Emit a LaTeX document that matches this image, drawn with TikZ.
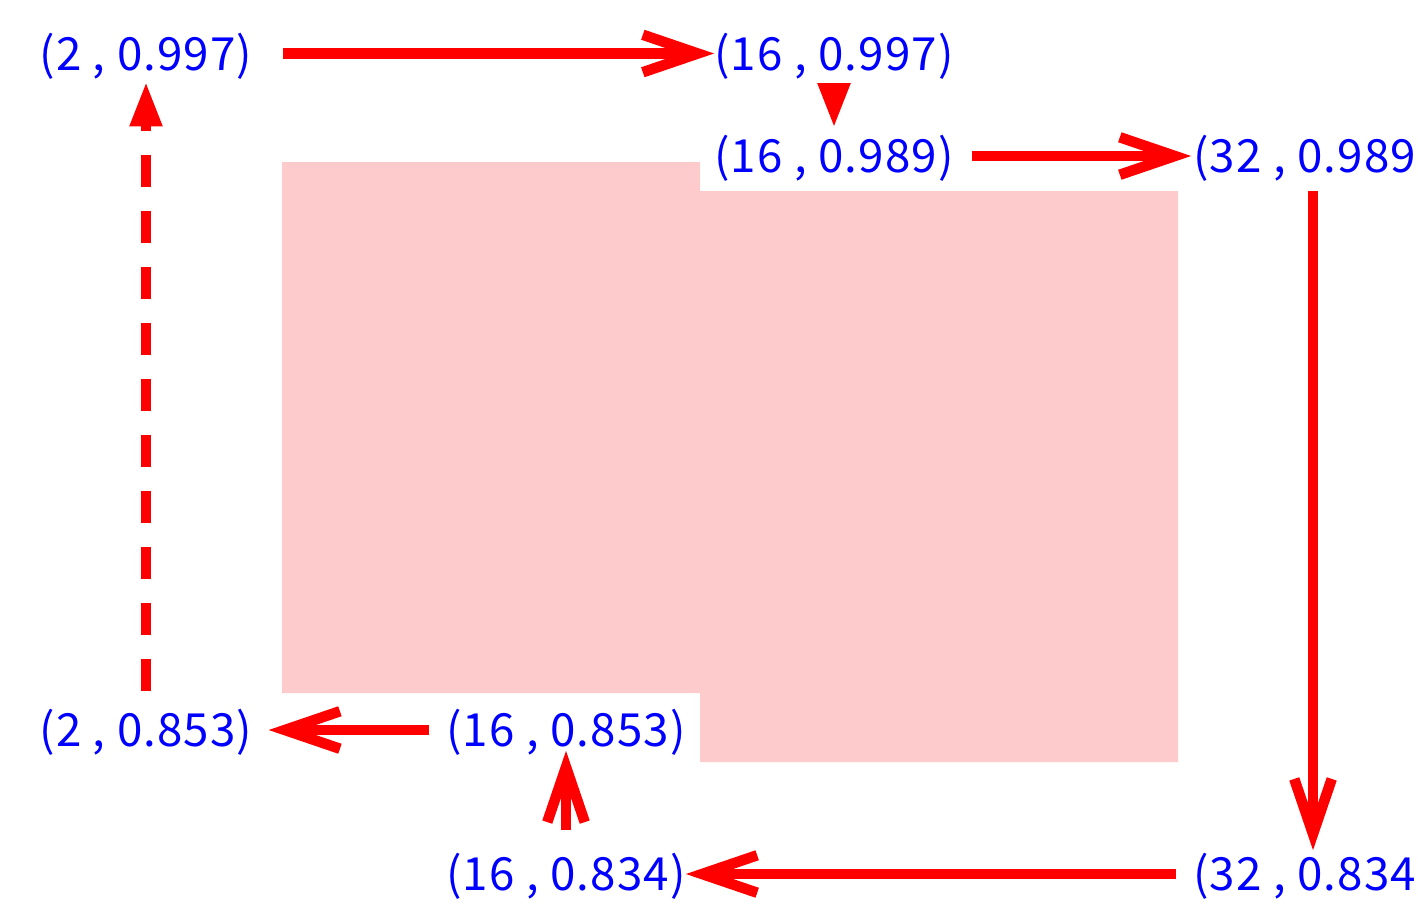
\documentclass[tikz,border=0pt]{standalone}
\usepackage{fontspec}
\newfontfamily\labelfont[LetterSpace=2.5]{Noto Sans CJK JP}
\usetikzlibrary{arrows.meta}
\definecolor{regionpink}{RGB}{253,203,203}

\begin{document}
\begin{tikzpicture}[x=0.02cm,y=-0.02cm,
    lbl/.style={blue,inner sep=0pt,text height=0.66cm,text depth=0pt,font=\labelfont\fontsize{26}{30}\selectfont},
    barb/.style={red,line width=0.21cm,-{Straight Barb[length=1.1cm,width=0.75cm]}},
    tri/.style={red,line width=0.21cm,-{Triangle[length=0.9cm,width=0.6cm]}}]
    \useasboundingbox (0,0) rectangle (1418,907);

    % Shaded region
    \fill[regionpink] (282,162) -- (700,162) -- (700,191) -- (1178,191) -- (1178,762)
        -- (700,762) -- (700,693) -- (282,693) -- cycle;

    % Points
    \node[lbl] (p2a) at (146,53.5) {(2 , 0.997)};
    \node[lbl] (p16a) at (834,53.5) {(16 , 0.997)};
    \node[lbl] (p16b) at (834,156) {(16 , 0.989)};
    \node[lbl] (p32a) at (1313,156) {(32 , 0.989)};
    \node[lbl] (p2b) at (146,730) {(2 , 0.853)};
    \node[lbl] (p16c) at (566,730) {(16 , 0.853)};
    \node[lbl] (p16d) at (566,874) {(16 , 0.834)};
    \node[lbl] (p32b) at (1313,874) {(32 , 0.834)};

    % Arrows
    \draw[barb,shorten <=0.6cm] (p2a.east) -- (p16a.west);
    \draw[tri,shorten <=0.26cm,shorten >=0.22cm] (p16a.south) -- (p16b.north);
    \draw[barb,shorten <=0.36cm,shorten >=0.04cm] (p16b.east) -- (p32a.west);
    \draw[barb,shorten <=0.36cm,shorten >=0.14cm] (p32a.south) -- (p32b.north);
    \draw[barb,shorten <=0.34cm] (p32b.west) -- (p16d.east);
    \draw[barb,shorten <=0.54cm,shorten >=0.08cm] (p16d.north) -- (p16c.south);
    \draw[barb,shorten <=0.34cm,shorten >=0.32cm] (p16c.west) -- (p2b.east);
    \draw[tri,dash pattern=on 0.64cm off 0.48cm,shorten <=0.44cm,shorten >=0.22cm] (p2b.north) -- (p2a.south);
\end{tikzpicture}
\end{document}
